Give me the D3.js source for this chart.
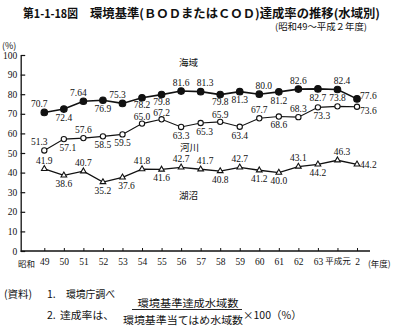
<!DOCTYPE html>
<html>
<head>
<meta charset="utf-8">
<script src="https://cdn.jsdelivr.net/npm/d3@7"></script>
<style>
  body { margin: 0; background: #fff; }
  svg { display: block; }
  .jp { font-family: "Noto Sans CJK JP", sans-serif; fill: #111; }
  .num { font-family: "Liberation Serif", serif; fill: #111; }
</style>
</head>
<body>
<svg id="chart" width="397" height="328"></svg>
<script>
// Fiscal years (昭和49 … 平成2)
const years = ["49","50","51","52","53","54","55","56","57","58","59","60","61","62","63","元","2"];
const yearLabels = ["49","50","51","52","53","54","55","56","57","58","59","60","61","62","63","平成元","2"];
const yTicks = [0,10,20,30,40,50,60,70,80,90,100];

// Attainment rate (%) by water area
const seaValues   = [70.7,72.4,76.4,76.9,75.3,78.2,79.8,81.6,81.3,79.8,81.3,80.0,81.2,82.6,82.7,82.4,77.6];
const riverValues = [51.3,57.1,57.6,58.5,59.5,65.0,67.2,63.3,65.3,65.9,63.4,67.7,68.6,68.3,73.3,73.8,73.6];
const lakeValues  = [41.9,38.6,40.7,35.2,37.6,41.8,41.6,42.7,41.7,40.8,42.7,41.2,40.0,43.1,44.2,46.3,44.2];

// Printed value labels (the 昭和51 sea figure is printed as "7.64")
const seaText   = seaValues.map(v => v.toFixed(1)); seaText[2] = "7.64";
const riverText = riverValues.map(v => v.toFixed(1));
const lakeText  = lakeValues.map(v => v.toFixed(1));

// Which side of each point its value label sits on
const seaSide   = ["ul","d","ul","d","ul","dt","dt","u","ur","dt","d","ur","d","u","d","ur","ru"];
const riverSide = ["ul","dr","u","d","d","ut","ut","d","dr","ut","d","u","d","u","dr","u","rd"];
const lakeSide  = ["u","d","u","d","dr","u","d","u","ur","d","u","d","d","u","d","ur","r"];

const svg = d3.select("#chart");
const axisX0 = 20.7, axisX1 = 370;

const x = d3.scalePoint().domain(years).range([44.3, 357]);
const y = d3.scaleLinear().domain([0, 100]).range([251, 55]);

// Title block
svg.append("text").attr("class","jp").attr("x",23).attr("y",17.5)
  .attr("font-size",12).attr("font-weight",700)
  .attr("textLength",55).attr("lengthAdjust","spacingAndGlyphs")
  .text("第1-1-18図");
svg.append("text").attr("class","jp").attr("x",90).attr("y",17.5)
  .attr("font-size",12).attr("font-weight",700)
  .attr("textLength",290).attr("lengthAdjust","spacingAndGlyphs")
  .text("環境基準(ＢＯＤまたはＣＯＤ)達成率の推移(水域別)");
svg.append("text").attr("class","jp").attr("x",367).attr("y",29.5)
  .attr("font-size",9).attr("text-anchor","end")
  .attr("textLength",92).attr("lengthAdjust","spacingAndGlyphs")
  .text("(昭和49～平成２年度)");
svg.append("text").attr("class","jp").attr("x",2).attr("y",48.5)
  .attr("font-size",9).text("(%)");

// Y axis: ticks point inward
const gy = svg.append("g").attr("transform",`translate(${axisX0},0)`)
  .call(d3.axisLeft(y).tickValues(yTicks).tickSize(-4.5).tickSizeOuter(0).tickPadding(3.5));
gy.select(".domain").attr("stroke","#111").attr("stroke-width",1.3);
gy.selectAll(".tick line").attr("stroke","#111").attr("stroke-width",1.2);
gy.selectAll(".tick text").attr("class","num").attr("font-size",9.5)
  .attr("font-family","Liberation Serif, serif");

// X axis: short upward ticks, baseline runs past the last year
const gx = svg.append("g").attr("transform",`translate(0,${y(0)})`)
  .call(d3.axisBottom(x).tickSize(-3).tickSizeOuter(0).tickPadding(7)
    .tickFormat((d,i) => yearLabels[i]));
gx.select(".domain").remove();
gx.selectAll(".tick line").attr("stroke","#111").attr("stroke-width",1);
gx.selectAll(".tick text")
  .attr("font-family", d => /\d/.test(d) ? "Liberation Serif, serif" : "Noto Sans CJK JP, sans-serif")
  .attr("font-size", d => /\d/.test(d) ? 9.5 : 8.5)
  .attr("fill","#111");
svg.append("line").attr("x1",axisX0).attr("x2",axisX1).attr("y1",y(0)).attr("y2",y(0))
  .attr("stroke","#111").attr("stroke-width",1.3);
svg.append("text").attr("class","jp").attr("x",26.5).attr("y",266.5)
  .attr("font-size",8.5).attr("text-anchor","middle").text("昭和");
svg.append("text").attr("class","jp").attr("x",368).attr("y",266.5)
  .attr("font-size",8.5).text("(年度)");

// Label placement relative to its point
const offsets = {
  u:  {dx: 0,   dy: -8.5, anchor: "middle"},
  ut: {dx: 0,   dy: -7,   anchor: "middle"},
  ul: {dx: -5,  dy: -9,   anchor: "middle"},
  ur: {dx: 4.5, dy: -8.5, anchor: "middle"},
  d:  {dx: 0,   dy: 8.5,  anchor: "middle"},
  dt: {dx: 0,   dy: 7,    anchor: "middle"},
  dr: {dx: 4,   dy: 8.5,  anchor: "middle"},
  r:  {dx: 3,   dy: 0,    anchor: "start"},
  ru: {dx: 3,   dy: -3.5, anchor: "start"},
  rd: {dx: 3,   dy: 3.5,  anchor: "start"}
};

function drawSeries(values, texts, sides, opts) {
  const g = svg.append("g");
  const line = d3.line().x((d,i) => x(years[i])).y(d => y(d));
  g.append("path").datum(values).attr("d", line)
    .attr("fill","none").attr("stroke","#111").attr("stroke-width",opts.width);
  g.selectAll(".pt").data(values).join("path")
    .attr("transform",(d,i) => `translate(${x(years[i])},${y(d)})`)
    .attr("d", d3.symbol().type(opts.symbol).size(opts.size)())
    .attr("fill", opts.fill).attr("stroke","#111").attr("stroke-width",1.1);
  g.selectAll(".lbl").data(values).join("text")
    .attr("class","num").attr("font-size",9.5)
    .attr("x",(d,i) => x(years[i]) + offsets[sides[i]].dx)
    .attr("y",(d,i) => y(d) + offsets[sides[i]].dy)
    .attr("dy","0.35em")
    .attr("text-anchor",(d,i) => offsets[sides[i]].anchor)
    .text((d,i) => texts[i]);
}

drawSeries(seaValues, seaText, seaSide, {width:1.6, symbol:d3.symbolCircle, size:34, fill:"#111"});
drawSeries(riverValues, riverText, riverSide, {width:1.1, symbol:d3.symbolCircle, size:22, fill:"#fff"});
drawSeries(lakeValues, lakeText, lakeSide, {width:1.3, symbol:d3.symbolTriangle, size:14, fill:"#fff"});

// Series names
svg.append("text").attr("class","jp").attr("x",179).attr("y",65.5).attr("font-size",9.5).text("海域");
svg.append("text").attr("class","jp").attr("x",180).attr("y",151).attr("font-size",9.5).text("河川");
svg.append("text").attr("class","jp").attr("x",179).attr("y",198.5).attr("font-size",9.5).text("湖沼");

// Notes
const nfs = 10.5;
svg.append("text").attr("class","jp").attr("x",4).attr("y",297.5).attr("font-size",nfs).text("(資料)");
svg.append("text").attr("class","jp").attr("x",47).attr("y",297.5).attr("font-size",nfs).text("1.");
svg.append("text").attr("class","jp").attr("x",66).attr("y",297.5).attr("font-size",nfs)
  .attr("textLength",49).attr("lengthAdjust","spacingAndGlyphs").text("環境庁調べ");
svg.append("text").attr("class","jp").attr("x",47).attr("y",318.5).attr("font-size",nfs).text("2.");
svg.append("text").attr("class","jp").attr("x",60).attr("y",318.5).attr("font-size",nfs)
  .attr("textLength",54).attr("lengthAdjust","spacingAndGlyphs").text("達成率は、");
svg.append("text").attr("class","jp").attr("x",188).attr("y",306.5).attr("font-size",nfs)
  .attr("text-anchor","middle").attr("textLength",101).attr("lengthAdjust","spacingAndGlyphs")
  .text("環境基準達成水域数");
svg.append("line").attr("x1",132).attr("x2",242).attr("y1",309.5).attr("y2",309.5)
  .attr("stroke","#111").attr("stroke-width",0.9);
svg.append("text").attr("class","jp").attr("x",183).attr("y",324).attr("font-size",nfs)
  .attr("text-anchor","middle").attr("textLength",120).attr("lengthAdjust","spacingAndGlyphs")
  .text("環境基準当てはめ水域数");
svg.append("text").attr("class","jp").attr("x",243).attr("y",318.5).attr("font-size",nfs)
  .text("×100（%）");
</script>
</body>
</html>
